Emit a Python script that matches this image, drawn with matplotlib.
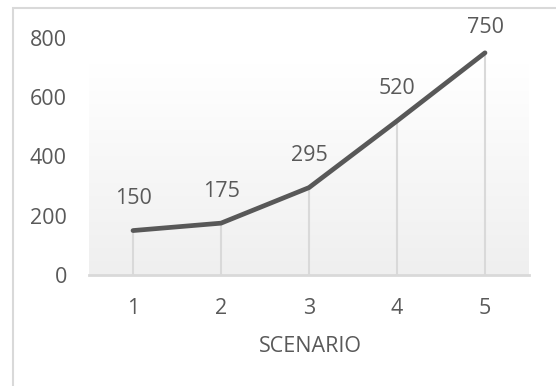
import matplotlib
matplotlib.use("Agg")
import matplotlib.pyplot as plt
import numpy as np
from matplotlib.patches import Rectangle
from matplotlib.colors import LinearSegmentedColormap

scenarios = [1, 2, 3, 4, 5]
values = [150, 175, 295, 520, 750]
y_ticks = [0, 200, 400, 600, 800]
x_label = "SCENARIO"

plt.rcParams['font.family'] = ['Open Sans', 'DejaVu Sans']
TXT = '#595959'
FS = 15.5

W, H = 556, 386
fig = plt.figure(figsize=(W / 100, H / 100), dpi=100)
fig.patch.set_facecolor('white')

# outer chart border (only left and top visible)
fig.patches.append(Rectangle((12.5 / W, -0.2), 1.5, (H - 8) / H + 0.2,
                             transform=fig.transFigure, fill=False,
                             edgecolor='#d9d9d9', lw=1.5, zorder=0))

ax = fig.add_axes([89 / W, 1 - 275 / H, 440 / W, 237 / H])
ax.set_xlim(0.5, 5.5)
ax.set_ylim(0, 800)
ax.set_facecolor('none')
for s in ax.spines.values():
    s.set_visible(False)

# gradient plot background
grad = np.linspace(0, 1, 256).reshape(-1, 1)
cmap = LinearSegmentedColormap.from_list('g', ['#efefef', '#ffffff'])
ax.imshow(grad, cmap=cmap, aspect='auto', origin='lower',
          extent=[0.5, 5.5, 0, 709], zorder=0, interpolation='bilinear')

# axis line
ax.axhline(0, color='#d9d9d9', lw=2, zorder=1, clip_on=False)

# drop lines
ax.vlines(scenarios, 0, values, colors='#d9d9d9', lw=1.5, zorder=2)

# main line
ax.plot(scenarios, values, color='#585858', lw=3.4, solid_capstyle='round',
        solid_joinstyle='round', zorder=3)

# data labels: above each point, kept inside the chart area
for xv, yv in zip(scenarios, values):
    ly = min(yv + 108, 834)
    ax.text(xv, ly, str(yv), ha='center', va='center', fontsize=FS,
            color=TXT, clip_on=False)

ax.set_xticks(scenarios)
ax.set_xticklabels([str(s) for s in scenarios])
ax.set_yticks(y_ticks)
ax.set_yticklabels([str(t) for t in y_ticks])
ax.tick_params(axis='both', length=0, labelsize=FS, labelcolor=TXT)
ax.tick_params(axis='x', pad=16.5)
ax.tick_params(axis='y', pad=16)

fig.text(310 / W, 1 - 346 / H, x_label, ha='center', va='center',
         fontsize=FS, color=TXT)

fig.savefig('out.png', dpi=100)
